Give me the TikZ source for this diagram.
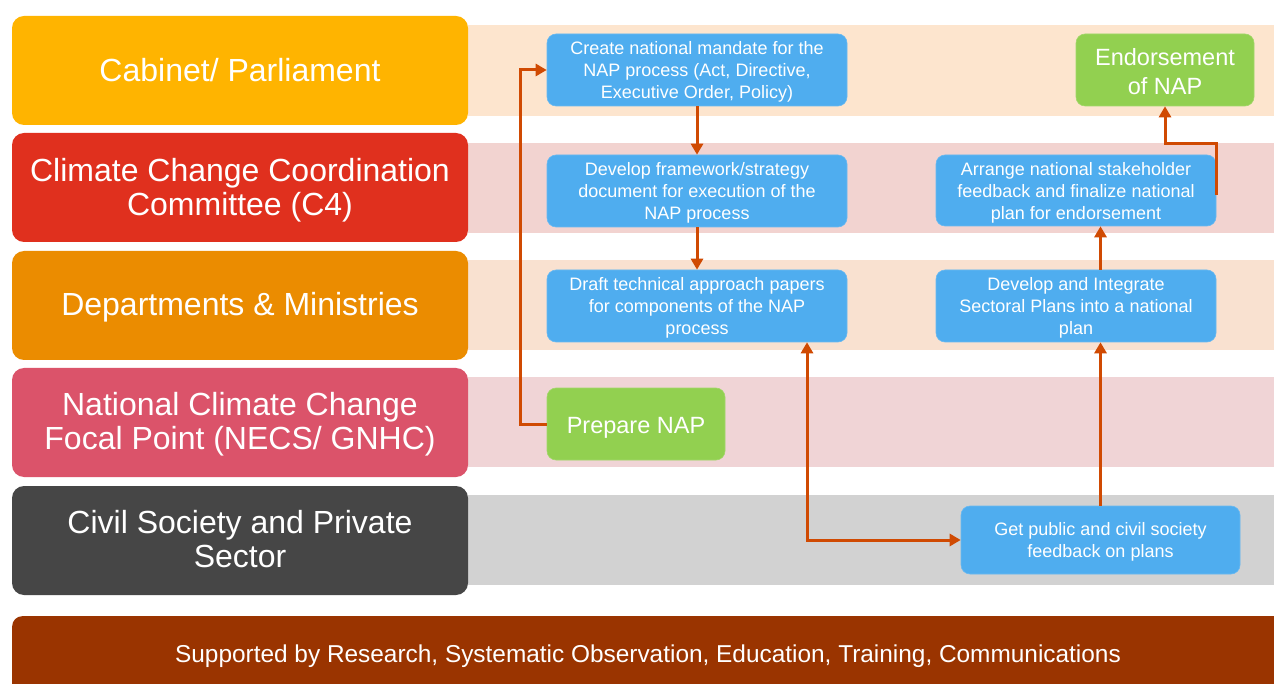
\documentclass[tikz,border=0pt]{standalone}
\usepackage{fontspec}
\setmainfont{Liberation Sans}
\usetikzlibrary{arrows.meta,calc}
\definecolor{rowA}{HTML}{FFB400}
\definecolor{rowB}{HTML}{E0301E}
\definecolor{rowC}{HTML}{EB8C00}
\definecolor{rowD}{HTML}{DB536A}
\definecolor{rowE}{HTML}{464646}
\definecolor{bandA}{HTML}{FDE5CE}
\definecolor{bandB}{HTML}{F2D3D0}
\definecolor{bandC}{HTML}{F9E1D0}
\definecolor{bandD}{HTML}{F0D4D6}
\definecolor{bandE}{HTML}{D2D2D2}
\definecolor{barcol}{HTML}{9A3400}
\definecolor{boxblue}{HTML}{4FADEF}
\definecolor{boxgreen}{HTML}{92D050}
\definecolor{arrcol}{HTML}{D04A02}
\newcommand\mlines[2]{\raisebox{#1}[\height][\depth]{\begin{tabular}{@{}c@{}}#2\end{tabular}}}
\tikzset{
  tdrop/.style={execute at begin node={\rule{0pt}{#1}}},
  lane/.style={rounded corners=12pt, minimum width=456pt, minimum height=109pt, text=white, inner sep=0pt, font=\fontsize{32}{34}\selectfont},
  bluebox/.style={fill=boxblue, draw=boxblue!85!white, line width=0.6pt, rounded corners=9pt, text=white, inner sep=0pt, font=\fontsize{18}{22}\selectfont},
  greenbox/.style={fill=boxgreen, draw=boxgreen!85!white, line width=0.6pt, rounded corners=9pt, text=white, inner sep=0pt, font=\fontsize{23.5}{29}\selectfont},
  arr/.style={draw=arrcol, line width=3pt, -{Triangle[length=11pt,width=12pt]}},
  arrboth/.style={draw=arrcol, line width=3pt, {Triangle[length=11pt,width=12pt]}-{Triangle[length=11pt,width=12pt]}},
}
\begin{document}
\begin{tikzpicture}[x=1pt,y=-1pt]
\useasboundingbox (0,0) rectangle (1274,684);
\clip (0,0) rectangle (1274,684);
\fill[white] (0,0) rectangle (1274,684);
% bands
\fill[bandA] (468,25) rectangle (1274,116);
\fill[bandB] (468,143) rectangle (1274,233);
\fill[bandC] (468,260) rectangle (1274,350);
\fill[bandD] (468,377) rectangle (1274,467);
\fill[bandE] (468,495) rectangle (1274,585);
% lanes
\node[lane, fill=rowA] (l1) at (240,70.5) {Cabinet/ Parliament};
\node[lane, fill=rowB] (l2) at (240,187.5) {\mlines{-4pt}{Climate Change Coordination\\Committee (C4)}};
\node[lane, fill=rowC, tdrop=27pt] (l3) at (240,305.5) {Departments \& Ministries};
\node[lane, fill=rowD] (l4) at (240,422.5) {\mlines{-3pt}{National Climate Change\\Focal Point (NECS/ GNHC)}};
\node[lane, fill=rowE] (l5) at (240,540.5) {\mlines{-3pt}{Civil Society and Private\\Sector}};
% bottom bar
\node[fill=barcol, rounded corners=10pt, minimum width=1290pt, minimum height=100pt, inner sep=0pt, anchor=north west] (bar) at (12,616) {};
\node[text=white, font=\fontsize{24.4}{28}\selectfont] (bartext) at (648,656) {Supported by Research, Systematic Observation, Education, Training, Communications};
% boxes
\node[bluebox, minimum width=300pt, minimum height=72pt] (create) at (697,70) {\mlines{-2.5pt}{Create national mandate for the\\NAP process (Act, Directive,\\Executive Order, Policy)}};
\node[greenbox, minimum width=178pt, minimum height=72pt] (endorse) at (1165,70) {\mlines{-4pt}{Endorsement\\of NAP}};
\node[bluebox, minimum width=300pt, minimum height=72pt] (frame) at (697,191) {\mlines{-2.5pt}{Develop framework/strategy\\document for execution of the\\NAP process}};
\node[bluebox, minimum width=280pt, minimum height=71pt] (arrange) at (1076,190.5) {\mlines{-2.5pt}{Arrange national stakeholder\\feedback and finalize national\\plan for endorsement}};
\node[bluebox, minimum width=300pt, minimum height=72pt] (draft) at (697,306) {\mlines{-2.5pt}{Draft technical approach papers\\for components of the NAP\\process}};
\node[bluebox, minimum width=280pt, minimum height=72pt] (integ) at (1076,306) {\mlines{-2.5pt}{Develop and Integrate\\Sectoral Plans into a national\\plan}};
\node[greenbox, minimum width=178pt, minimum height=72pt, tdrop=24pt] (prep) at (636,424) {Prepare NAP};
\node[bluebox, minimum width=279pt, minimum height=68pt] (getpub) at (1100.5,540) {\mlines{-2.5pt}{Get public and civil society\\feedback on plans}};
% connectors
\draw[arr] (prep.west) -- ++(-26,0) |- (create.west);
\draw[arr] (create) -- (frame);
\draw[arr] (frame) -- (draft);
\draw[arrboth] ([xshift=110pt]draft.south) |- (getpub.west);
\draw[arr] (getpub.north) -- (getpub.north |- integ.south);
\draw[arr] (integ.north -| getpub.north) -- (arrange.south -| getpub.north);
\draw[arr] ([yshift=-4.5pt]arrange.east) -- ++(0,-51) -| (endorse.south);
\end{tikzpicture}
\end{document}
